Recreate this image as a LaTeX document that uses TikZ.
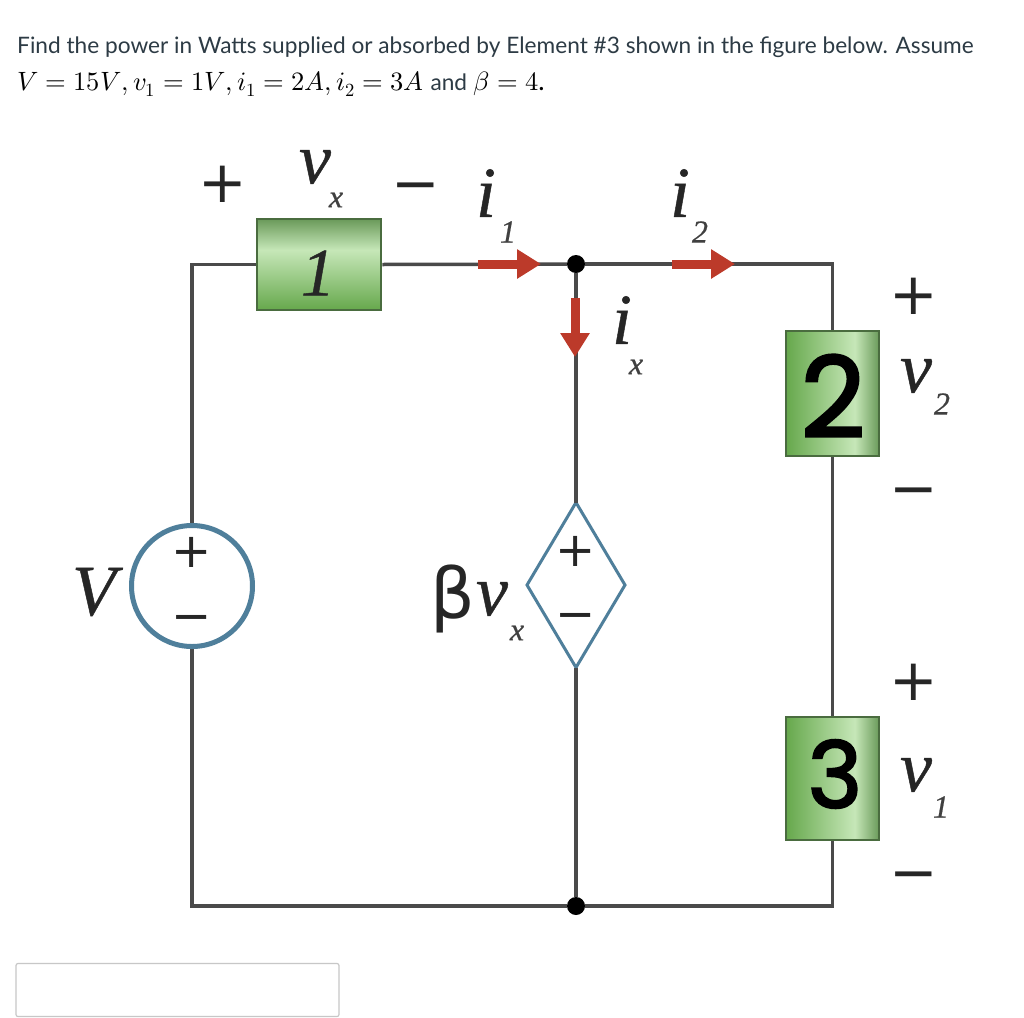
\documentclass[tikz,border=0pt]{standalone}
\usepackage{fontspec}
\usepackage{unicode-math}
\setmainfont{Lato}
\setmathfont{Latin Modern Math}
\newfontfamily\lblfont{Liberation Serif}[ItalicFeatures={FakeBold=0.6}]
\newfontfamily\digfont{Poppins}[FakeBold=2.5]
\newfontfamily\betafont{DejaVu Sans}
\usetikzlibrary{shapes.geometric,arrows.meta}
\definecolor{txtc}{HTML}{2D3B45}
\definecolor{wirec}{HTML}{4A4A4A}
\definecolor{srcc}{HTML}{4F7F9B}
\definecolor{redc}{HTML}{BC3A2A}
\definecolor{gA}{HTML}{66A84C}
\definecolor{gB}{HTML}{C6E7B8}
\definecolor{gC}{HTML}{6A9A5A}
\pgfdeclareverticalshading{boxv}{100bp}{color(0bp)=(gA); color(25bp)=(gA); color(58bp)=(gB); color(75bp)=(gC); color(100bp)=(gC)}
\pgfdeclarehorizontalshading{boxh}{100bp}{color(0bp)=(gA); color(25bp)=(gA); color(62bp)=(gB); color(75bp)=(gC); color(100bp)=(gC)}
\tikzset{
  wire/.style={draw=wirec,line width=3.5pt,line join=miter},
  gbox/.style={draw=gC!70!black,line width=2.5pt,inner sep=0pt},
  jdot/.style={circle,fill=black,inner sep=0pt,minimum size=18pt},
  redarrow/.style={draw=redc,line width=9pt,-{Triangle[length=24pt,width=28pt]}},
  prompt/.style={anchor=base west,inner sep=0pt,text=txtc,font=\fontsize{22.66}{28}\selectfont},
  sym/.style={inner sep=0pt,text=black!85,font=\betafont\fontsize{58}{60}\selectfont},
  smallsym/.style={sym,font=\betafont\fontsize{48}{50}\selectfont},
  lbl/.style={inner sep=0pt,text=black!85,font=\lblfont\itshape\fontsize{72}{74}\selectfont},
  sub/.style={inner sep=0pt,text=black!75,font=\lblfont\itshape\fontsize{32}{34}\selectfont},
  digit/.style={inner sep=0pt,text=black,font=\digfont\fontsize{#1}{#1}\selectfont}
}
\begin{document}
\begin{tikzpicture}[x=1pt,y=-1pt]
\useasboundingbox (0,0) rectangle (1024,1017);
\fill[white] (0,0) rectangle (1024,1017);
\node[prompt] (line1) at (17,53) {Find the power in Watts supplied or absorbed by Element \#3 shown in the figure below. Assume};
\node[prompt] (line2) at (17,90) {\fontsize{26.5}{30}\selectfont\color{black}$V=15V,v_1=1V,i_1=2A,i_2=3A$ {\fontsize{22.66}{28}\selectfont\color{txtc}and} $\beta=4$.};
% components
\node[draw=srcc,line width=5pt,circle,minimum size=121pt,inner sep=0pt,fill=white] (src) at (192,586) {};
\node[draw=srcc,line width=3pt,diamond,outer sep=0pt,minimum width=98pt,minimum height=165pt,inner sep=0pt,fill=white] (dep) at (576,585) {};
\node[jdot] (top) at (576,264) {};
\node[jdot] (bot) at (576,906) {};
\node[gbox,shading=boxv,minimum width=124pt,minimum height=91pt] (b1) at (319,264.5) {};
\node[gbox,shading=boxh,minimum width=93pt,minimum height=125pt] (b2) at (832.5,393.5) {};
\node[gbox,shading=boxh,minimum width=93pt,minimum height=123pt] (b3) at (832.5,778.5) {};
% wires
\draw[wire] (src.north) |- (b1.west);
\draw[wire] (b1.east) -- (top);
\draw[wire] (top) -| (b2.north);
\draw[wire] (b2.south) -- (b3.north);
\draw[wire] (b3.south) |- (bot);
\draw[wire] (bot) -| (src.south);
\draw[wire] (top) -- (dep.north);
\draw[wire] (dep.south) -- (bot);
% red arrows
\coordinate (a1s) at (478,264); \coordinate (a1e) at (541,264);
\coordinate (a2s) at (672,264); \coordinate (a2e) at (735,264);
\coordinate (a3s) at (575,298); \coordinate (a3e) at (575,357);
\draw[redarrow] (a1s) -- (a1e);
\draw[redarrow] (a2s) -- (a2e);
\draw[redarrow] (a3s) -- (a3e);
% box text
\node[lbl,font=\lblfont\itshape\fontsize{68}{70}\selectfont] (n1) at (318,273) {1};
\node[digit=112] (n2) at (833,396) {2};
\node[digit=92] (n3) at (835,774) {3};
% signs
\node[sym] (p1) at (223,184) {+};
\node[sym] (m1) at (416,193) {−};
\node[sym] (p2) at (914,296) {+};
\node[sym] (m2) at (914,498) {−};
\node[sym] (p3) at (914,682) {+};
\node[sym] (m3) at (914,882) {−};
\node[smallsym] (sp) at (192,552) {+};
\node[smallsym] (sm) at (192,624) {−};
\node[smallsym] (dp) at (576,551) {+};
\node[smallsym] (dm) at (576,622) {−};
% labels
\node[lbl] (vx) at (315,167) {v};
\node[sub] (vxs) at (336,200) {x};
\node[lbl] (i1) at (486,193) {i};
\node[sub] (i1s) at (508,232) {1};
\node[lbl] (i2) at (680,193) {i};
\node[sub] (i2s) at (700,232) {2};
\node[lbl] (ix) at (622,320) {i};
\node[sub] (ixs) at (636,367) {x};
\node[lbl] (v2) at (916,376) {v};
\node[sub] (v2s) at (942,404) {2};
\node[lbl] (v1) at (916,775) {v};
\node[sub] (v1s) at (941,807) {1};
\node[lbl] (vs) at (94,592) {V};
\node[lbl,font=\betafont\fontsize{70}{72}\selectfont] (bt) at (453,599) {β};
\node[lbl] (bv) at (492,599) {v};
\node[sub] (bvs) at (517,633) {x};
% answer box
\node[draw=black!22,line width=1.2pt,rounded corners=2pt,minimum width=323pt,minimum height=53pt,inner sep=0pt] (ans) at (177.5,990) {};
\end{tikzpicture}
\end{document}
